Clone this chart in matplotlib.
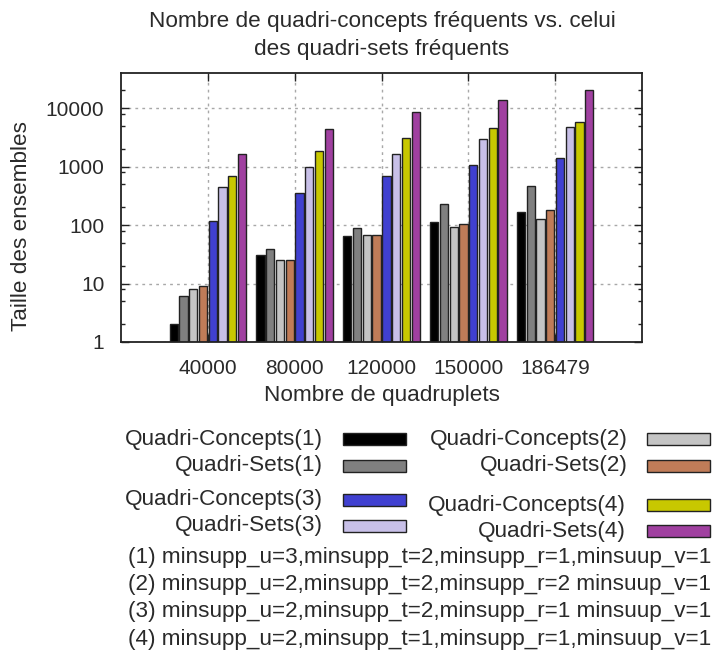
import numpy as np
import matplotlib
matplotlib.use('Agg')
import matplotlib.pyplot as plt
from matplotlib.patches import Rectangle
from matplotlib.ticker import FixedLocator, NullFormatter

plt.rcParams['font.family'] = ['Liberation Sans', 'DejaVu Sans']

# data
quadruplets = ['40000', '80000', '120000', '150000', '186479']
series = ['Quadri-Concepts(1)', 'Quadri-Sets(1)', 'Quadri-Concepts(2)', 'Quadri-Sets(2)',
          'Quadri-Concepts(3)', 'Quadri-Sets(3)', 'Quadri-Concepts(4)', 'Quadri-Sets(4)']
concepts_1 = [2, 31, 65, 113, 165]
sets_1 = [6, 39, 89, 229, 466]
concepts_2 = [8, 25, 68, 94, 125]
sets_2 = [9, 25, 68, 105, 183]
concepts_3 = [117, 358, 692, 1068, 1427]
sets_3 = [448, 974, 1670, 2940, 4790]
concepts_4 = [692, 1880, 3060, 4540, 5680]
sets_4 = [1670, 4310, 8430, 13700, 20350]
values = [concepts_1, sets_1, concepts_2, sets_2, concepts_3, sets_3, concepts_4, sets_4]
colors = ['#000000', '#808080', '#c4c4c4', '#c07c58',
          '#4040d0', '#c8c0e8', '#c8c800', '#a040a0']
notes = ['(1) minsupp_u=3,minsupp_t=2,minsupp_r=1,minsuup_v=1',
         '(2) minsupp_u=2,minsupp_t=2,minsupp_r=2 minsuup_v=1',
         '(3) minsupp_u=2,minsupp_t=2,minsupp_r=1 minsuup_v=1',
         '(4) minsupp_u=2,minsupp_t=1,minsupp_r=1,minsuup_v=1']

W, H = 712, 653
fig = plt.figure(figsize=(W / 100, H / 100), dpi=100)
ax = fig.add_axes([121 / W, 1 - 342 / H, (642 - 121) / W, (342 - 73) / H])
ax.set_yscale('log')

fs_tick = 15
fs = 16.2
txt_col = '#2a2a2a'
pitch, width = 0.1123, 0.095
x = np.arange(len(quadruplets))
for j, (vals, col) in enumerate(zip(values, colors)):
    ax.bar(x + (j - 3.5) * pitch, vals, width, color=col, edgecolor='#222222',
           linewidth=1.0, zorder=3)

ax.set_xlim(-1, 5)
ax.set_ylim(1, 10 ** 4.6)
ax.set_xticks(x)
ax.set_xticklabels(quadruplets, fontsize=fs_tick, color=txt_col)
ax.yaxis.set_major_locator(FixedLocator([1, 10, 100, 1000, 10000]))
ax.set_yticklabels(['1', '10', '100', '1000', '10000'], fontsize=fs_tick, color=txt_col)
minors = [m * 10 ** d for d in range(5) for m in (2, 5, 8)]
ax.yaxis.set_minor_locator(FixedLocator(minors))
ax.yaxis.set_minor_formatter(NullFormatter())
ax.tick_params(axis='both', which='major', direction='in', length=6, width=1,
               top=True, right=True, pad=12, color='#222222')
ax.tick_params(axis='y', which='minor', direction='in', length=3, width=1,
               right=True, color='#222222')
ax.tick_params(axis='x', which='minor', bottom=False, top=False)
ax.grid(True, which='major', color='#a8a8a8', linestyle=(0, (2, 3)), linewidth=1)
ax.set_axisbelow(True)
for s in ax.spines.values():
    s.set_linewidth(1.3)
    s.set_color('#222222')
    s.set_zorder(4)

fig.text(382 / W, 1 - 21 / H, 'Nombre de quadri-concepts fréquents vs. celui',
         ha='center', va='center', fontsize=fs, color=txt_col)
fig.text(382 / W, 1 - 49 / H, 'des quadri-sets fréquents',
         ha='center', va='center', fontsize=fs, color=txt_col)
fig.text(382 / W, 1 - 396 / H, 'Nombre de quadruplets',
         ha='center', va='center', fontsize=fs, color=txt_col)
fig.text(22 / W, 1 - 226 / H, 'Taille des ensembles', rotation=90,
         ha='center', va='center', fontsize=fs, color=txt_col)

# hand-placed legend as in the reference
leg_pos = [(323, 343, 406, 439), (323, 343, 406, 466),
           (628, 647, 710, 439), (628, 647, 710, 466),
           (323, 343, 406, 500), (323, 343, 406, 526),
           (626, 647, 710, 505), (626, 647, 710, 531)]
for name, col, (tx, bx0, bx1, yc) in zip(series, colors, leg_pos):
    fig.text(tx / W, 1 - yc / H, name, ha='right', va='center',
             fontsize=fs, color=txt_col)
    fig.add_artist(Rectangle((bx0 / W, 1 - (yc + 6) / H), (bx1 - bx0) / W, 12 / H,
                             transform=fig.transFigure, facecolor=col,
                             edgecolor='#222222', linewidth=1.0))

for i, line in enumerate(notes):
    fig.text(128 / W, 1 - (557 + 27.5 * i) / H, line, ha='left', va='center',
             fontsize=fs, color=txt_col)

fig.savefig('out.png', dpi=100)
